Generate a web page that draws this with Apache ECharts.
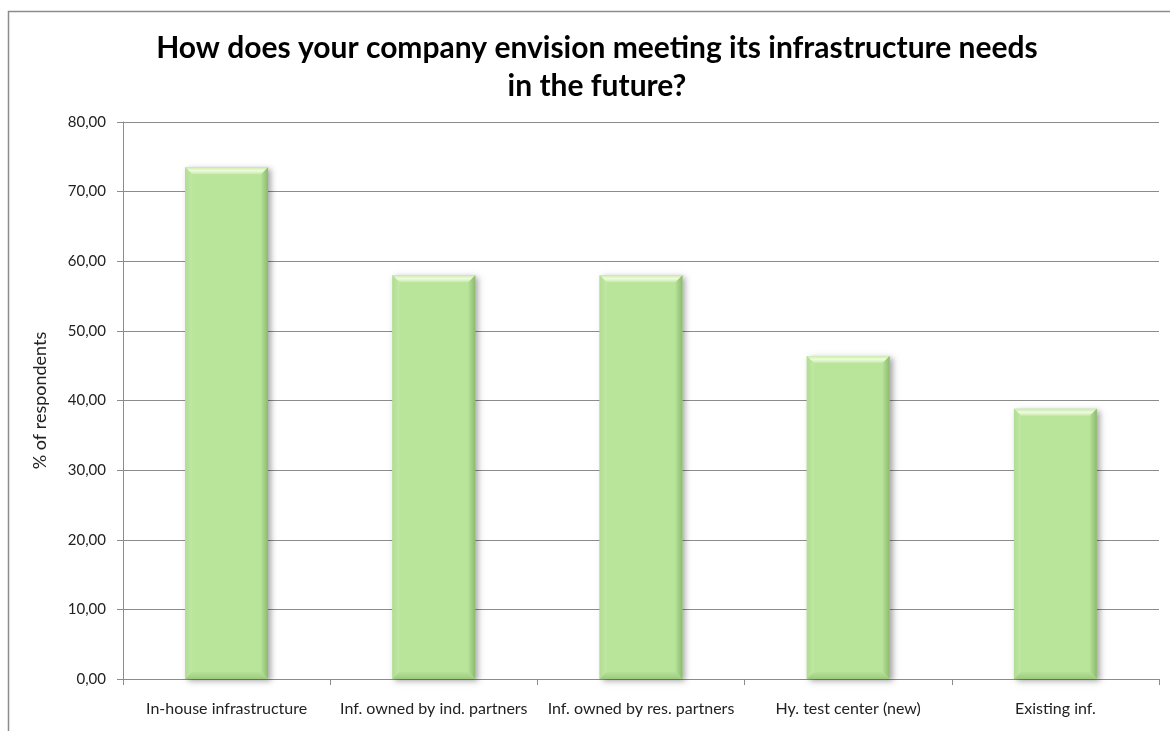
<!DOCTYPE html>
<html>
<head>
<meta charset="utf-8">
<script src="https://cdn.jsdelivr.net/npm/echarts@6/dist/echarts.min.js"></script>
<style>
  html, body { margin: 0; padding: 0; background: #fff; }
  #chart { width: 1170px; height: 731px; }
</style>
</head>
<body>
<div id="chart"></div>
<script>
// Survey answers and share of respondents (%)
const categories = [
  'In-house infrastructure',
  'Inf. owned by ind. partners',
  'Inf. owned by res. partners',
  'Hy. test center (new)',
  'Existing inf.'
];
const values = [73.5, 58.0, 58.0, 46.4, 38.8];
const yTicks = { min: 0, max: 80, interval: 10 };

const chart = echarts.init(document.getElementById('chart'));

// Bevelled bar: main face plus four edge facets and a soft drop shadow
function renderBevelBar(params, api) {
  const idx = api.value(0);
  const top = api.coord([idx, api.value(1)]);
  const base = api.coord([idx, 0]);
  const w = api.size([1, 0])[0] * 0.4;
  const x0 = top[0] - w / 2, x1 = top[0] + w / 2;
  const y0 = top[1], y1 = base[1];
  const b = 7;
  return {
    type: 'group',
    children: [
      { type: 'rect', shape: { x: x0, y: y0, width: w, height: y1 - y0 },
        style: { fill: '#b9e59b', shadowBlur: 6, shadowOffsetX: 3, shadowOffsetY: 2, shadowColor: 'rgba(0,0,0,0.35)' } },
      { type: 'polygon', shape: { points: [[x0, y0], [x1, y0], [x1 - b, y0 + b], [x0 + b, y0 + b]] },
        style: { fill: new echarts.graphic.LinearGradient(0, 0, 0, 1, [
          { offset: 0, color: '#c9ecae' }, { offset: 0.5, color: '#eefbdc' }, { offset: 1, color: '#c6eaa9' }]) } },
      { type: 'polygon', shape: { points: [[x0, y0], [x0 + b, y0 + b], [x0 + b, y1 - b], [x0, y1]] },
        style: { fill: new echarts.graphic.LinearGradient(0, 0, 1, 0, [
          { offset: 0, color: '#b1dd93' }, { offset: 1, color: '#c0e8a3' }]) } },
      { type: 'polygon', shape: { points: [[x1, y0], [x1, y1], [x1 - b, y1 - b], [x1 - b, y0 + b]] },
        style: { fill: new echarts.graphic.LinearGradient(0, 0, 1, 0, [
          { offset: 0, color: '#b5e197' }, { offset: 1, color: '#8bba6e' }]) } },
      { type: 'polygon', shape: { points: [[x0, y1], [x0 + b, y1 - b], [x1 - b, y1 - b], [x1, y1]] },
        style: { fill: new echarts.graphic.LinearGradient(0, 0, 0, 1, [
          { offset: 0, color: '#b5e197' }, { offset: 1, color: '#9ccb80' }]) } }
    ]
  };
}

chart.setOption({
  animation: false,
  backgroundColor: '#ffffff',
  graphic: [{
    type: 'rect', left: 6, top: 9, z: -1,
    shape: { x: 0, y: 0, width: 1200, height: 800 },
    style: { fill: 'none', stroke: '#8c8c8c', lineWidth: 1.5 }
  }],
  title: {
    text: 'How does your company envision meeting its infrastructure needs\nin the future?',
    left: 592, top: 24, textAlign: 'center',
    textStyle: { fontFamily: 'Lato', fontWeight: 'bold', fontSize: 30, lineHeight: 38, color: '#000' }
  },
  grid: { left: 123, right: 11, top: 122, bottom: 52 },
  xAxis: {
    type: 'category',
    data: categories,
    axisLine: { lineStyle: { color: '#8c8c8c', width: 1 } },
    axisTick: { show: true, length: 6, alignWithLabel: false, lineStyle: { color: '#8c8c8c' } },
    axisLabel: { fontFamily: 'Lato', fontSize: 16, color: '#222', margin: 22, interval: 0 }
  },
  yAxis: {
    type: 'value',
    min: yTicks.min, max: yTicks.max, interval: yTicks.interval,
    name: '% of respondents',
    nameLocation: 'middle', nameGap: 74, nameRotate: 90,
    nameTextStyle: { fontFamily: 'Lato', fontSize: 18, color: '#222' },
    axisLine: { show: true, lineStyle: { color: '#8c8c8c', width: 1 } },
    axisTick: { show: true, length: 6, lineStyle: { color: '#8c8c8c' } },
    axisLabel: {
      fontFamily: 'Lato', fontSize: 15, color: '#222', margin: 17,
      formatter: v => v.toFixed(2).replace('.', ',')
    },
    splitLine: { lineStyle: { color: '#8c8c8c', width: 1 } }
  },
  series: [{
    type: 'custom',
    renderItem: renderBevelBar,
    encode: { x: 0, y: 1 },
    data: values.map((v, i) => [i, v])
  }]
});
</script>
</body>
</html>
